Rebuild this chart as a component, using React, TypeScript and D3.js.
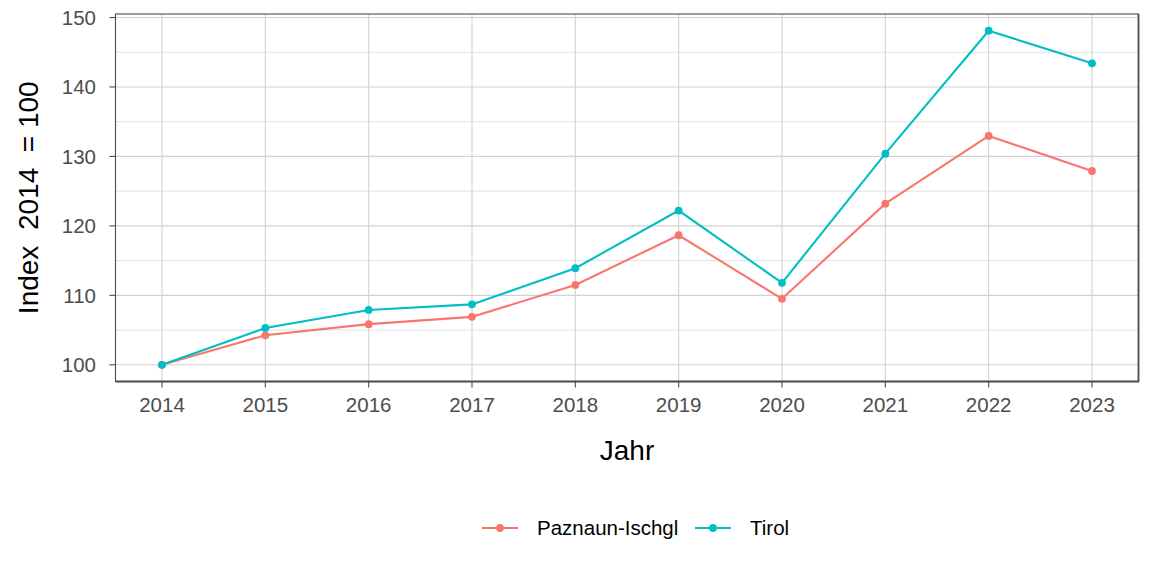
import React from "react";
import * as d3 from "d3";

const years = [2014, 2015, 2016, 2017, 2018, 2019, 2020, 2021, 2022, 2023];
const paznaun = [100, 104.25, 105.85, 106.9, 111.5, 118.65, 109.5, 123.2, 132.95, 127.9];
const tirol = [100, 105.3, 107.9, 108.7, 113.9, 122.2, 111.8, 130.4, 148.1, 143.4];
const yTicks = [100, 110, 120, 130, 140, 150];
const yMinor = [105, 115, 125, 135, 145];
const seriesNames = ["Paznaun-Ischgl", "Tirol"];
const seriesColors = ["#F8766D", "#00BFC4"];

const W = 1152, H = 576;
const L = 115.5, R = 1138.5, T = 14, B = 381.5;
const font = "'Liberation Sans', Arial, sans-serif";

export default function App() {
  const x = d3.scaleLinear().domain([2014 - 0.45, 2023 + 0.45]).range([L, R]);
  const yMin = 100 - 0.05 * 48.1, yMax = 148.1 + 0.05 * 48.1;
  const y = d3.scaleLinear().domain([yMin, yMax]).range([B, T]);
  const line = d3.line<[number, number]>().x(d => x(d[0])).y(d => y(d[1]));
  const data = [paznaun, tirol];

  return (
    <svg width={W} height={H} style={{ position: "absolute", left: 0, top: 0, background: "#fff" }} fontFamily={font}>
      <rect x={0} y={0} width={W} height={H} fill="#fff" />
      {yMinor.map(v => (
        <line key={"m" + v} x1={L} x2={R} y1={y(v)} y2={y(v)} stroke="#d9d9d9" strokeWidth={0.8} />
      ))}
      {yTicks.map(v => (
        <line key={"g" + v} x1={L} x2={R} y1={y(v)} y2={y(v)} stroke="#d2d2d2" strokeWidth={1.1} />
      ))}
      {years.map(v => (
        <line key={"gx" + v} x1={x(v)} x2={x(v)} y1={T} y2={B} stroke="#d2d2d2" strokeWidth={1.1} />
      ))}
      {data.map((s, i) => (
        <g key={i}>
          <path d={line(years.map((yr, j) => [yr, s[j]] as [number, number])) || ""} fill="none" stroke={seriesColors[i]} strokeWidth={2.1} />
          {years.map((yr, j) => (
            <circle key={j} cx={x(yr)} cy={y(s[j])} r={3.9} fill={seriesColors[i]} />
          ))}
        </g>
      ))}
      <rect x={L} y={T} width={R - L} height={B - T} fill="none" stroke="#4d4d4d" strokeWidth={1.1} />
      <line x1={L} x2={R + 0.6} y1={B} y2={B} stroke="#4d4d4d" strokeWidth={1.8} />
      <line x1={R} x2={R} y1={T} y2={B} stroke="#4d4d4d" strokeWidth={1.8} />
      {yTicks.map(v => (
        <g key={"t" + v}>
          <line x1={L - 6} x2={L} y1={y(v)} y2={y(v)} stroke="#4d4d4d" strokeWidth={1.1} />
          <text x={L - 19.5} y={y(v)} dy="0.36em" textAnchor="end" fontSize={20.5} fill="#4d4d4d">{v}</text>
        </g>
      ))}
      {years.map(v => (
        <g key={"tx" + v}>
          <line x1={x(v)} x2={x(v)} y1={B} y2={B + 6} stroke="#4d4d4d" strokeWidth={1.1} />
          <text x={x(v)} y={411.5} textAnchor="middle" fontSize={20.5} fill="#4d4d4d">{v}</text>
        </g>
      ))}
      <text x={(L + R) / 2} y={460} textAnchor="middle" fontSize={28} fill="#000">Jahr</text>
      <text transform={`translate(38,${(T + B) / 2}) rotate(-90)`} textAnchor="middle" fontSize={28} fill="#000" style={{ whiteSpace: "pre" }}>{"Index  2014  = 100"}</text>
      {seriesNames.map((n, i) => {
        const lx = i === 0 ? 482 : 695;
        return (
          <g key={n}>
            <line x1={lx} x2={lx + 36} y1={528} y2={528} stroke={seriesColors[i]} strokeWidth={2.1} />
            <circle cx={lx + 18} cy={528} r={3.9} fill={seriesColors[i]} />
            <text x={lx + 55} y={528} dy="0.36em" fontSize={20.5} fill="#000">{n}</text>
          </g>
        );
      })}
    </svg>
  );
}
